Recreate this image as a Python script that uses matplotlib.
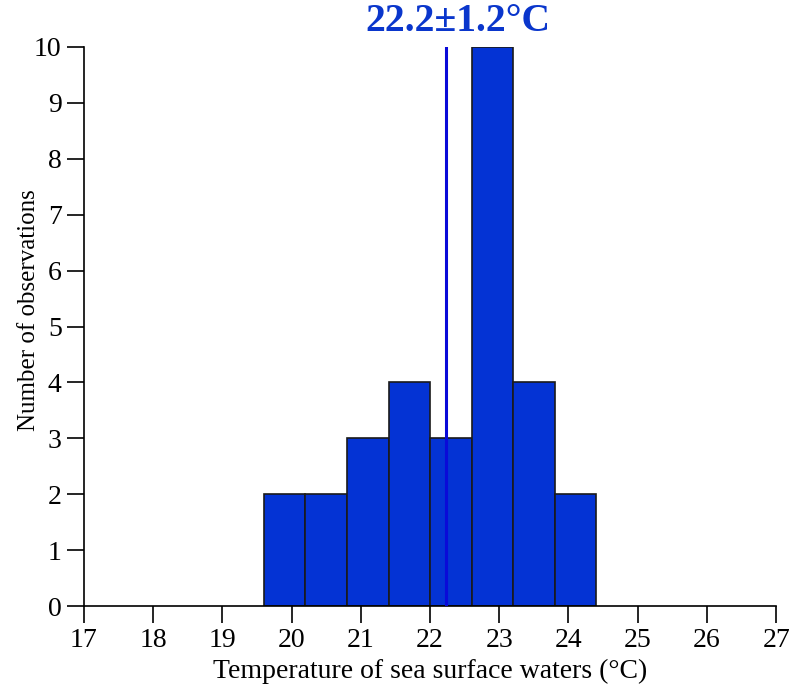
import numpy as np
import matplotlib.pyplot as plt

plt.rcParams['font.family'] = ['Liberation Serif', 'DejaVu Serif']

bin_edges = [19.6, 20.2, 20.8, 21.4, 22.0, 22.6, 23.2, 23.8, 24.4]
counts = [2, 2, 3, 4, 3, 10, 4, 2]
mean_temp = 22.23
title_text = '22.2\u00b11.2\u00b0C'

fig = plt.figure(figsize=(7.92, 6.9), dpi=100)
ax = fig.add_axes([0.106, 0.1217, 0.874, 0.8102])

edges = np.array(bin_edges)
ax.bar(edges[:-1], counts, width=np.diff(edges), align='edge',
       color='#0433d4', edgecolor='#1a1a1a', linewidth=1.2, zorder=2)
ax.axvline(mean_temp, color='#0a0ad8', linewidth=2.2, zorder=3)

ax.set_xlim(17, 27)
ax.set_ylim(0, 10)
ax.set_xticks(range(17, 28))
ax.set_yticks(range(0, 11))

ax.spines['right'].set_color('none')
ax.spines['top'].set_color('none')
ax.xaxis.set_ticks_position('bottom')
ax.yaxis.set_ticks_position('left')
ax.tick_params(direction='out', length=12, width=1.2, labelsize=20, pad=4)
for s in ['left', 'bottom']:
    ax.spines[s].set_linewidth(1.2)

ax.set_xlabel('Temperature of sea surface waters (\u00b0C)', fontsize=20, labelpad=4)
ax.set_ylabel('Number of observations', fontsize=18)
ax.yaxis.set_label_coords(-0.063, 0.53)

ax.text(22.4, 10.12, title_text, ha='center', va='bottom', fontsize=28.5,
        fontweight='bold', color='#0a36cc')

plt.savefig('out.png', dpi=100)
